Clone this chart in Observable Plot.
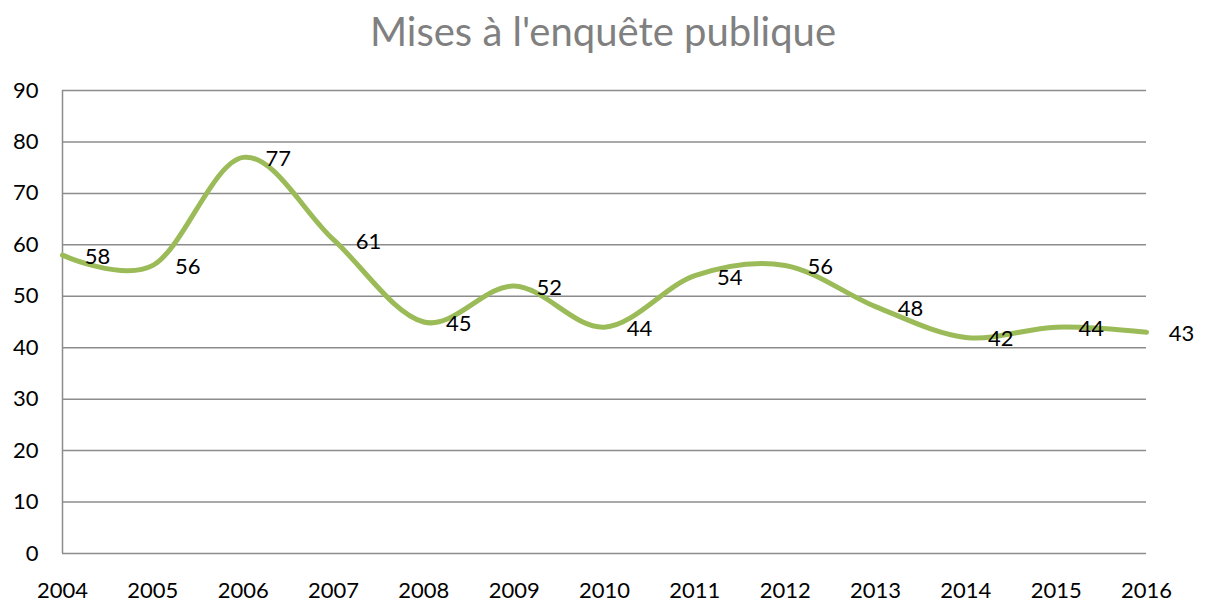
<!DOCTYPE html>
<html>
<head>
<meta charset="utf-8">
<script src="https://cdn.jsdelivr.net/npm/d3@7"></script>
<script src="https://cdn.jsdelivr.net/npm/@observablehq/plot@0.6"></script>
<style>
  body { margin: 0; background: #fff; font-family: Lato, "Open Sans", sans-serif; }
  #title { height: 70px; text-align: center; font-size: 40px; color: #808080; line-height: 62px; width: 1206px; }
</style>
</head>
<body>
<div id="title">Mises à l'enquête publique</div>
<div id="chart"></div>
<script>
const years = [2004, 2005, 2006, 2007, 2008, 2009, 2010, 2011, 2012, 2013, 2014, 2015, 2016];
const values = [58, 56, 77, 61, 45, 52, 44, 54, 56, 48, 42, 44, 43];
const yTicks = [0, 10, 20, 30, 40, 50, 60, 70, 80, 90];

const data = years.map((y, i) => ({year: y, value: values[i]}));

const chart = Plot.plot({
  width: 1206,
  height: 533,
  marginTop: 20,
  marginBottom: 50,
  marginLeft: 62,
  marginRight: 60,
  style: {fontFamily: "Lato, 'Open Sans', sans-serif", fontSize: "22px", color: "#000", background: "#fff"},
  x: {type: "linear", domain: [2004, 2016], ticks: years, tickFormat: d => String(d), tickSize: 0, label: null},
  y: {domain: [0, 90], ticks: yTicks, tickSize: 0, label: null},
  marks: [
    Plot.gridY(yTicks, {stroke: "#8c8c8c", strokeOpacity: 1, strokeWidth: 1.5}),
    Plot.ruleX([2004], {stroke: "#8c8c8c", strokeWidth: 1.5}),
    Plot.axisX({ticks: years, tickFormat: d => String(d), tickSize: 0, tickPadding: 29, fontSize: 22, fill: "#000"}),
    Plot.axisY({ticks: yTicks, tickSize: 0, tickPadding: 24, fontSize: 22, fill: "#000"}),
    Plot.line(data, {x: "year", y: "value", stroke: "#9bbb59", strokeWidth: 5, curve: "cardinal", tension: 0}),
    Plot.text(data, {x: "year", y: "value", text: d => String(d.value), dx: 35, dy: 2, fontSize: 22, fill: "#000", textAnchor: "middle"})
  ]
});
document.getElementById("chart").appendChild(chart);
</script>
</body>
</html>
